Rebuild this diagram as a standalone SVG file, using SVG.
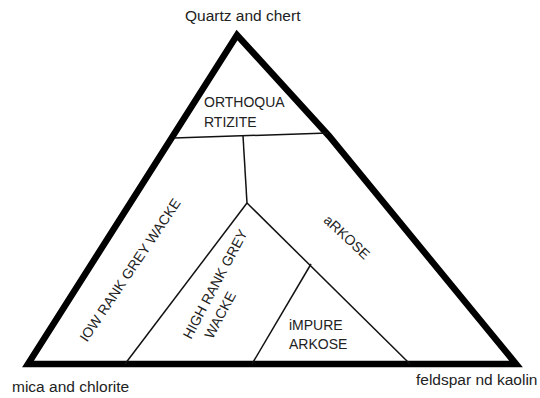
<svg xmlns="http://www.w3.org/2000/svg" width="540" height="398" viewBox="0 0 540 398">
<style>
.t{font-family:"Liberation Sans",Arial,sans-serif;fill:#222;}
.lbl{font-size:15.5px;}
.in{font-size:14px;}
.thick{fill:none;stroke:#000;stroke-width:6.5;stroke-linejoin:miter;stroke-miterlimit:10;}
.thin{fill:none;stroke:#111;stroke-width:1.5;}
</style>
<rect width="540" height="398" fill="#fff"/>
<g id="triangle">
<path class="thick" d="M28,364 L237,35 L329,136 L516,364 Z"/>
</g>
<g id="connectors">
<line class="thin" x1="174" y1="138" x2="328" y2="133"/>
<line class="thin" x1="243" y1="136" x2="247" y2="203"/>
<line class="thin" x1="247" y1="203" x2="125" y2="364"/>
<line class="thin" x1="247" y1="203" x2="410" y2="364"/>
<line class="thin" x1="311" y1="264" x2="252" y2="364"/>
</g>
<g id="quartz"><text class="t lbl" x="185" y="21">Quartz and chert</text></g>
<g id="mica"><text class="t lbl" x="12" y="392">mica and chlorite</text></g>
<g id="feldspar"><text class="t lbl" x="416" y="385">feldspar nd kaolin</text></g>
<g id="orthoquartzite">
<text class="t in" x="204" y="107">ORTHOQUA</text>
<text class="t in" x="204" y="127">RTIZITE</text>
</g>
<g id="low-rank"><text class="t in" text-anchor="middle" transform="translate(130,270) rotate(-56)" y="5">IOW RANK GREY WACKE</text></g>
<g id="high-rank">
<text class="t in" text-anchor="middle" transform="translate(215,284) rotate(-62)" y="5">HIGH RANK GREY</text>
<text class="t in" text-anchor="middle" transform="translate(220,315) rotate(-62)" y="5">WACKE</text>
</g>
<g id="arkose"><text class="t in" text-anchor="middle" transform="translate(347,237) rotate(43)" y="5">aRKOSE</text></g>
<g id="impure-arkose">
<text class="t in" x="289" y="330">iMPURE</text>
<text class="t in" x="289" y="349">ARKOSE</text>
</g>
</svg>
